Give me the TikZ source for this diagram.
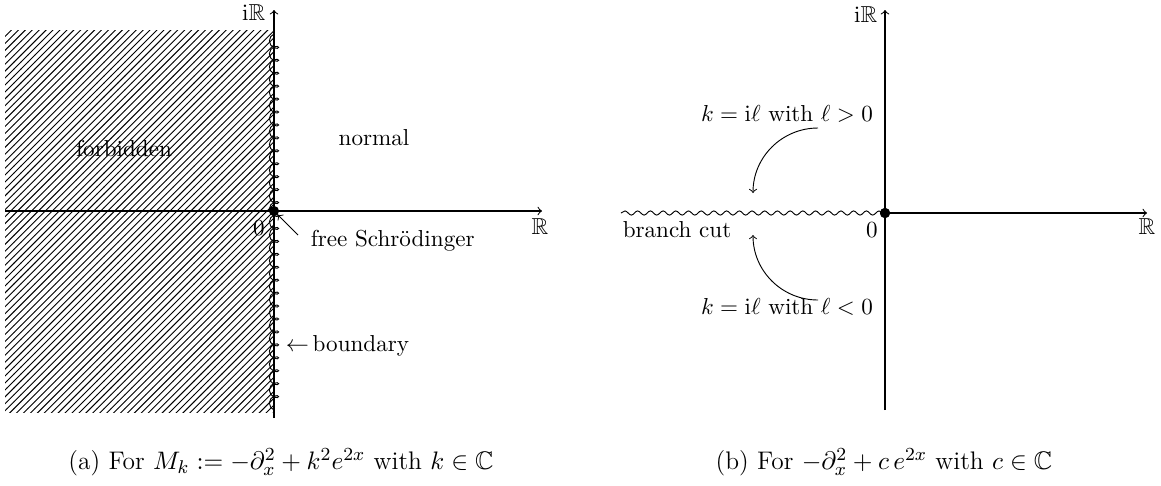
\documentclass[tikz,border=0pt]{standalone}
\usepackage{amsmath,amssymb}
\usetikzlibrary{patterns,decorations.pathmorphing}
\begin{document}
\begin{tikzpicture}[x=0.4329pt,y=-0.4329pt,
  axis/.style={->,line width=0.45pt},
  dotnode/.style={circle,fill=black,inner sep=0pt,minimum size=4.4pt},
  lbl/.style={inner sep=1pt},
  capfont/.style={font=\fontsize{11}{13.6}\selectfont},
  coilline/.style={line width=0.4pt,decorate,decoration={coil,amplitude=2pt,segment length=5.6pt,aspect=0.8}},
  snakeline/.style={line width=0.4pt,decorate,decoration={snake,amplitude=0.9pt,segment length=5.5pt}},
  pointer/.style={->,line width=0.4pt}]
\useasboundingbox (0,0) rectangle (1161,485);
% ---------- left panel ----------
\fill[pattern=north east lines] (5,30) rectangle (274,412);
\coordinate (Lbot) at (274,418);
\coordinate (Ltop) at (274,10);
\coordinate (Lleft) at (5,211);
\coordinate (Lright) at (542,211);
\coordinate (coilB) at (274,410);
\coordinate (coilT) at (274,30);
\draw[axis] (Lleft) -- (Lright);
\draw[axis] (Lbot) -- (Ltop);
\draw[coilline] (coilB) -- (coilT);
\node[dotnode] (O1) at (274,211) {};
\node[lbl,anchor=east] (iR1) at (268,13) {$\mathrm{i}\mathbb{R}$};
\node[lbl] (R1) at (540,227) {$\mathbb{R}$};
\node[lbl] (zero1) at (259,228) {$0$};
\node[lbl] (normal) at (374,138) {normal};
\node[lbl] (forb) at (124,148) {forbidden};
\node[lbl,anchor=west] (free) at (308,241) {free Schr\"odinger};
\coordinate (freeTail) at (298,235);
\draw[pointer] (freeTail) -- (O1.south east);
\node[lbl,anchor=west] (bound) at (283,346) {$\leftarrow$\,boundary};
\node[lbl,capfont] (capA) at (281,462) {(a) For $M_k := -\partial_x^2 + k^2 e^{2x}$ with $k \in \mathbb{C}$};
% ---------- right panel ----------
\coordinate (Rbot) at (885,410);
\coordinate (Rtop) at (885,10);
\coordinate (Rleft) at (621,213);
\coordinate (Rright) at (1147,213);
\node[dotnode] (O2) at (885,213) {};
\draw[axis] (Rbot) -- (Rtop);
\draw[axis] (O2.center) -- (Rright);
\draw[snakeline] (Rleft) -- (O2.center);
\node[dotnode] at (885,213) {};
\node[lbl,anchor=east] (iR2) at (880,15) {$\mathrm{i}\mathbb{R}$};
\node[lbl] (R2) at (1147,227) {$\mathbb{R}$};
\node[lbl] (zero2) at (872,230) {$0$};
\node[lbl,anchor=west] (cut) at (620,230) {branch cut};
\node[lbl] (kpos) at (787,114) {$k=\mathrm{i}\ell$ with $\ell>0$};
\node[lbl] (kneg) at (787,307) {$k=\mathrm{i}\ell$ with $\ell<0$};
\coordinate (upTail) at (818,128);
\coordinate (upTip) at (753,193);
\coordinate (dnTail) at (818,300);
\coordinate (dnTip) at (753,235);
\draw[pointer] (upTail) to[out=180,in=90] (upTip);
\draw[pointer] (dnTail) to[out=180,in=-90] (dnTip);
\node[lbl,capfont] (capB) at (884,462) {(b) For $-\partial_x^2 + c\,e^{2x}$ with $c \in \mathbb{C}$};
\end{tikzpicture}
\end{document}
